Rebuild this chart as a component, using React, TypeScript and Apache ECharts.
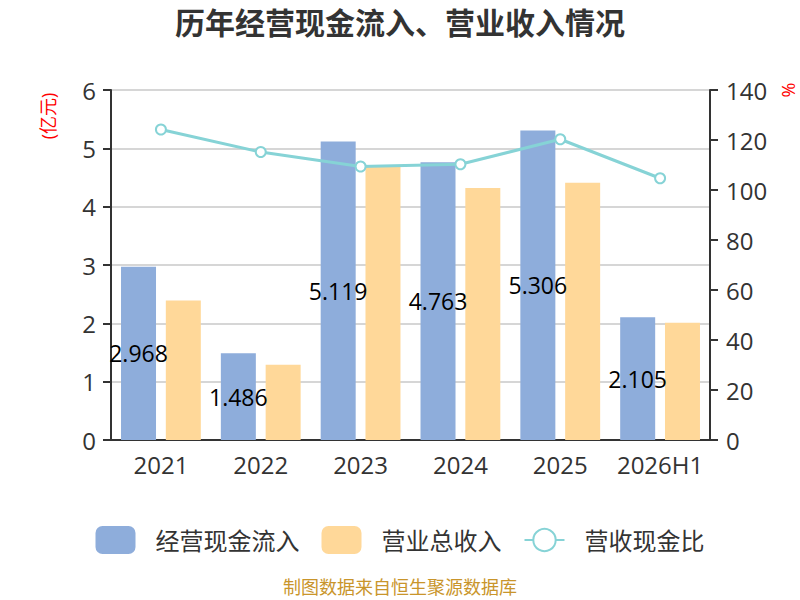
import React, { useEffect, useRef } from 'react';
import * as echarts from 'echarts';

const years = ['2021', '2022', '2023', '2024', '2025', '2026H1'];
const cashInflow = [2.968, 1.486, 5.119, 4.763, 5.306, 2.105];
const revenue = [2.39, 1.29, 4.68, 4.32, 4.41, 2.01];
const ratio = [124.2, 115.2, 109.4, 110.3, 120.3, 104.7];

const FONT = "'Open Sans', 'Noto Sans CJK SC', sans-serif";

export default function App() {
  const chartRef = useRef<HTMLDivElement>(null);

  useEffect(() => {
    document.body.style.margin = '0';
    if (!chartRef.current) return;
    const chart = echarts.init(chartRef.current, null, { renderer: 'svg' });

    chart.setOption({
      animation: false,
      backgroundColor: '#fff',
      textStyle: { fontFamily: FONT },
      title: {
        text: '历年经营现金流入、营业收入情况',
        left: 'center',
        top: 2,
        textStyle: { fontSize: 30, fontWeight: 'bold', color: '#333', fontFamily: FONT },
      },
      grid: { left: 111, right: 90, top: 90, bottom: 160 },
      legend: {
        top: 521,
        left: 'center',
        itemWidth: 40,
        itemHeight: 28,
        itemGap: 22,
        textStyle: { fontSize: 24, color: '#333', fontFamily: FONT, padding: [0, 0, 0, 15] },
        data: [
          { name: '经营现金流入', icon: 'roundRect' },
          { name: '营业总收入', icon: 'roundRect' },
          { name: '营收现金比' },
        ],
      },
      xAxis: {
        type: 'category',
        data: years,
        axisLine: { lineStyle: { color: '#333', width: 2 } },
        axisTick: { length: 8, lineStyle: { color: '#333', width: 2 } },
        axisLabel: { fontSize: 24, color: '#333', margin: 12, interval: 0 },
      },
      yAxis: [
        {
          type: 'value',
          min: 0,
          max: 6,
          interval: 1,
          axisLine: { show: true, lineStyle: { color: '#333', width: 2 } },
          axisTick: { show: true, length: 8, lineStyle: { color: '#333', width: 2 } },
          axisLabel: { fontSize: 24, color: '#333', margin: 15 },
          splitLine: { lineStyle: { color: '#c8c8c8', width: 1.5 } },
        },
        {
          type: 'value',
          min: 0,
          max: 140,
          interval: 20,
          axisLine: { show: true, lineStyle: { color: '#333', width: 2 } },
          axisTick: { show: true, length: 8, lineStyle: { color: '#333', width: 2 } },
          axisLabel: { fontSize: 24, color: '#333', margin: 16 },
          splitLine: { show: false },
        },
      ],
      graphic: [
        {
          type: 'text',
          x: 48,
          y: 116,
          rotation: Math.PI / 2,
          style: {
            text: '(亿元)',
            fontSize: 18,
            fill: '#ff0000',
            fontFamily: FONT,
            align: 'center',
            verticalAlign: 'middle',
          },
        },
        {
          type: 'text',
          x: 788,
          y: 90,
          rotation: Math.PI / 2,
          style: {
            text: '%',
            fontSize: 18,
            fill: '#ff0000',
            fontFamily: FONT,
            align: 'center',
            verticalAlign: 'middle',
          },
        },
        {
          type: 'text',
          left: 'center',
          top: 578,
          style: {
            text: '制图数据来自恒生聚源数据库',
            fontSize: 18,
            fill: '#c9952b',
            fontFamily: FONT,
          },
        },
      ],
      series: [
        {
          name: '经营现金流入',
          type: 'bar',
          data: cashInflow,
          barWidth: 35,
          barGap: '28%',
          itemStyle: { color: '#8eaddb' },
          label: {
            show: true,
            position: 'inside',
            color: '#000',
            fontSize: 23,
            fontFamily: FONT,
            formatter: (p: any) => p.value.toFixed(3),
          },
        },
        {
          name: '营业总收入',
          type: 'bar',
          data: revenue,
          barWidth: 35,
          itemStyle: { color: '#ffd899' },
        },
        {
          name: '营收现金比',
          type: 'line',
          yAxisIndex: 1,
          data: ratio,
          symbol: 'emptyCircle',
          symbolSize: 10,
          lineStyle: { color: '#86d3d6', width: 3 },
          itemStyle: { color: '#86d3d6', borderWidth: 2 },
        },
      ],
    });

    return () => chart.dispose();
  }, []);

  return <div ref={chartRef} style={{ width: 800, height: 600 }} />;
}
